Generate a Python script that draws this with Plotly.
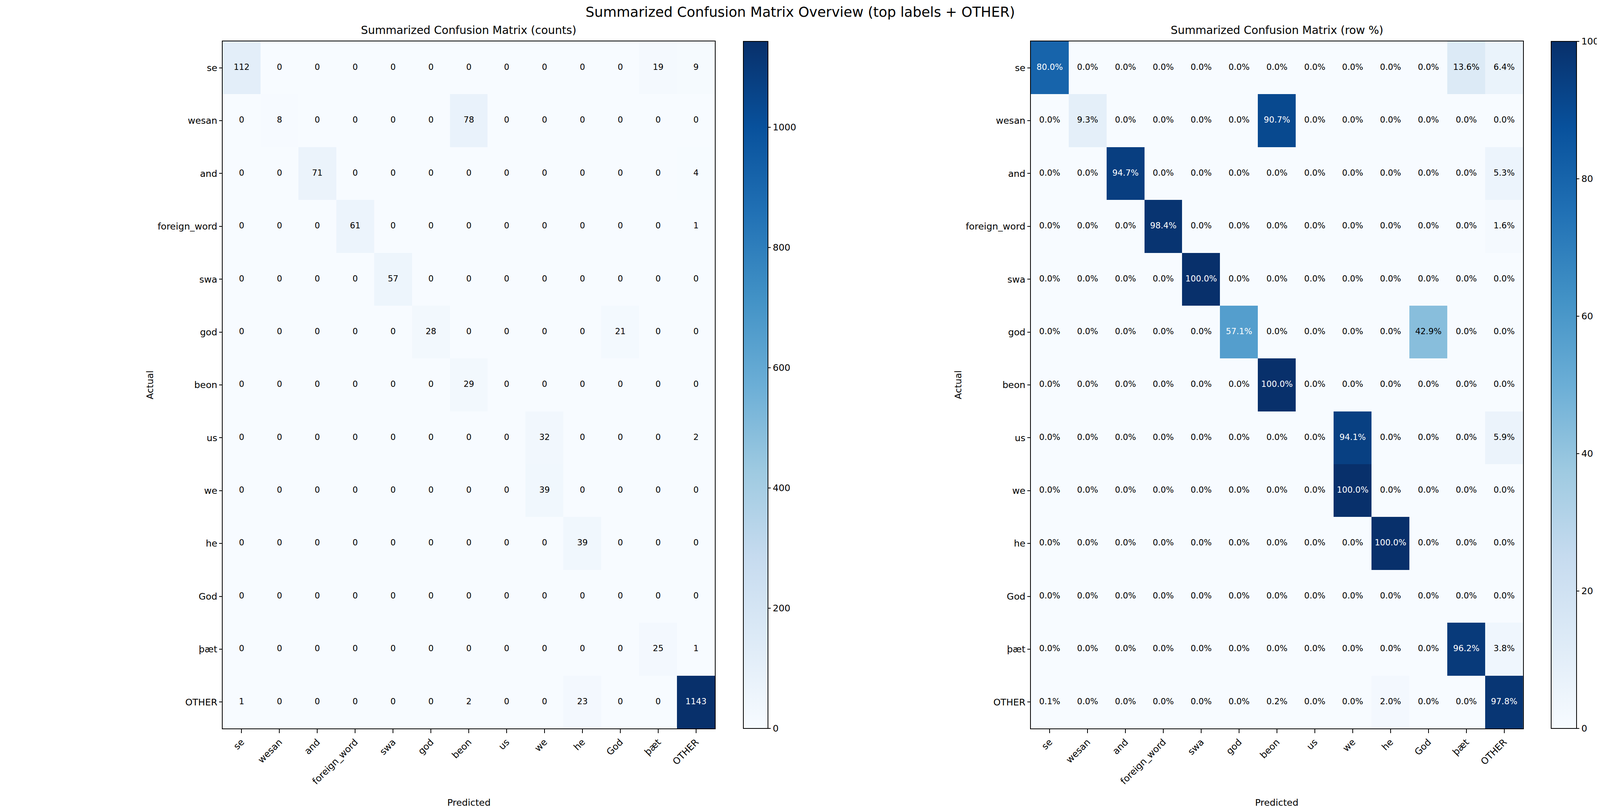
import plotly.graph_objects as go

# ==========================================
# DATA
# ==========================================
labels = ["se", "wesan", "and", "foreign_word", "swa", "god", "beon",
          "us", "we", "he", "God", "þæt", "OTHER"]

counts = [
    [112, 0, 0, 0, 0, 0, 0, 0, 0, 0, 0, 19, 9],
    [0, 8, 0, 0, 0, 0, 78, 0, 0, 0, 0, 0, 0],
    [0, 0, 71, 0, 0, 0, 0, 0, 0, 0, 0, 0, 4],
    [0, 0, 0, 61, 0, 0, 0, 0, 0, 0, 0, 0, 1],
    [0, 0, 0, 0, 57, 0, 0, 0, 0, 0, 0, 0, 0],
    [0, 0, 0, 0, 0, 28, 0, 0, 0, 0, 21, 0, 0],
    [0, 0, 0, 0, 0, 0, 29, 0, 0, 0, 0, 0, 0],
    [0, 0, 0, 0, 0, 0, 0, 0, 32, 0, 0, 0, 2],
    [0, 0, 0, 0, 0, 0, 0, 0, 39, 0, 0, 0, 0],
    [0, 0, 0, 0, 0, 0, 0, 0, 0, 39, 0, 0, 0],
    [0, 0, 0, 0, 0, 0, 0, 0, 0, 0, 0, 0, 0],
    [0, 0, 0, 0, 0, 0, 0, 0, 0, 0, 0, 25, 1],
    [1, 0, 0, 0, 0, 0, 2, 0, 0, 23, 0, 0, 1143],
]

row_pct = [
    [80.0, 0, 0, 0, 0, 0, 0, 0, 0, 0, 0, 13.6, 6.4],
    [0, 9.3, 0, 0, 0, 0, 90.7, 0, 0, 0, 0, 0, 0],
    [0, 0, 94.7, 0, 0, 0, 0, 0, 0, 0, 0, 0, 5.3],
    [0, 0, 0, 98.4, 0, 0, 0, 0, 0, 0, 0, 0, 1.6],
    [0, 0, 0, 0, 100.0, 0, 0, 0, 0, 0, 0, 0, 0],
    [0, 0, 0, 0, 0, 57.1, 0, 0, 0, 0, 42.9, 0, 0],
    [0, 0, 0, 0, 0, 0, 100.0, 0, 0, 0, 0, 0, 0],
    [0, 0, 0, 0, 0, 0, 0, 0, 94.1, 0, 0, 0, 5.9],
    [0, 0, 0, 0, 0, 0, 0, 0, 100.0, 0, 0, 0, 0],
    [0, 0, 0, 0, 0, 0, 0, 0, 0, 100.0, 0, 0, 0],
    [0, 0, 0, 0, 0, 0, 0, 0, 0, 0, 0, 0, 0],
    [0, 0, 0, 0, 0, 0, 0, 0, 0, 0, 0, 96.2, 3.8],
    [0.1, 0, 0, 0, 0, 0, 0.2, 0, 0, 2.0, 0, 0, 97.8],
]

count_ticks = [0, 200, 400, 600, 800, 1000]
pct_ticks = [0, 20, 40, 60, 80, 100]

# matplotlib "Blues"
BLUES = ['rgb(247,251,255)', 'rgb(222,235,247)', 'rgb(198,219,239)', 'rgb(158,202,225)',
         'rgb(107,174,214)', 'rgb(66,146,198)', 'rgb(33,113,181)', 'rgb(8,81,156)', 'rgb(8,48,107)']

FONT = "DejaVu Sans"

# The browser viewport ends up 4096x2080 css px (body keeps its 8px margin),
# so the 5720x2080 reference layout is squeezed horizontally to fit it.
VIEW_W, VIEW_H = 4096, 2080
BODY = 8
SX = VIEW_W / 5720
W = VIEW_W - BODY        # right body margin may be overrun, no scrollbar
H = VIEW_H - 2 * BODY    # bottom margin counts, keep it
FS = 0.85   # font shrink so text survives the horizontal squeeze


def px_x(v):
    return (v * SX - BODY) / W


def px_y(v):
    return 1 - (v - BODY) / H


# geometry in reference pixels
TOP, BOTTOM = 106, 1866
PANELS = [
    dict(left=796, right=2556, cb=2658, cb_r=2746),
    dict(left=3685, right=5445, cb=5545, cb_r=5636),
]

TICK_FONT = 27.8 * FS
CELL_FONT = 25 * FS
LINE_W = 2.0
TICK_LEN_V = 9.7        # vertical ticks (x axis)
TICK_LEN_H = 9.7 * SX   # horizontal ticks (y axis, colorbar)


def text_trace(matrix, fmt, xa, ya):
    vmax = max(max(r) for r in matrix)
    xs, ys, txt, cols = [], [], [], []
    for i, row in enumerate(matrix):
        for j, v in enumerate(row):
            xs.append(labels[j])
            ys.append(labels[i])
            txt.append(fmt(v))
            cols.append("white" if v > vmax / 2 else "black")
    return go.Scatter(x=xs, y=ys, mode="text", text=txt, xaxis=xa, yaxis=ya,
                      textfont=dict(family=FONT, size=CELL_FONT, color=cols),
                      hoverinfo="skip", showlegend=False)


fig = go.Figure()

mats = [
    (counts, lambda v: f"{v:d}", count_ticks, "Summarized Confusion Matrix (counts)"),
    (row_pct, lambda v: f"{v:.1f}%", pct_ticks, "Summarized Confusion Matrix (row %)"),
]

annotations = []
for k, ((mat, fmt, ticks, title), p) in enumerate(zip(mats, PANELS)):
    xa = "x" if k == 0 else "x2"
    ya = "y" if k == 0 else "y2"
    zmax = max(max(r) for r in mat)
    fig.add_trace(go.Heatmap(
        z=mat, x=labels, y=labels, xaxis=xa, yaxis=ya,
        colorscale=[[i / 8, c] for i, c in enumerate(BLUES)],
        zmin=0, zmax=zmax, hoverinfo="skip",
        colorbar=dict(
            x=px_x(p["cb"]), xanchor="left", xpad=0, ypad=0,
            y=px_y(BOTTOM), yanchor="bottom", len=px_y(TOP) - px_y(BOTTOM), lenmode="fraction",
            thickness=(p["cb_r"] - p["cb"]) * SX, thicknessmode="pixels",
            outlinewidth=LINE_W, outlinecolor="black",
            tickvals=ticks, ticks="outside", ticklen=TICK_LEN_H, tickwidth=LINE_W, tickcolor="black",
            tickfont=dict(family=FONT, size=TICK_FONT, color="black"),
        ),
    ))
    fig.add_trace(text_trace(mat, fmt, xa, ya))

    axis_common = dict(
        type="category", categoryorder="array", categoryarray=labels,
        showgrid=False, zeroline=False, showline=True, mirror=True,
        linecolor="black", linewidth=LINE_W, ticks="outside", tickwidth=LINE_W,
        tickcolor="black", tickfont=dict(family=FONT, size=TICK_FONT, color="black"),
    )
    fig.update_layout(**{
        ("xaxis" if k == 0 else "xaxis2"): dict(
            axis_common, domain=[px_x(p["left"]), px_x(p["right"])],
            range=[-0.5, 12.5], tickangle=-45, ticklen=TICK_LEN_V, anchor=ya),
        ("yaxis" if k == 0 else "yaxis2"): dict(
            axis_common, domain=[px_y(BOTTOM), px_y(TOP)],
            range=[12.5, -0.5], ticklen=TICK_LEN_H, anchor=xa),
    })

    cx = px_x((p["left"] + p["right"]) / 2)
    annotations += [
        dict(text=title, x=cx, y=px_y(78), xref="paper", yref="paper",
             xanchor="center", yanchor="middle", showarrow=False,
             font=dict(family=FONT, size=33.3 * FS, color="black")),
        dict(text="Predicted", x=cx, y=px_y(2056), xref="paper", yref="paper",
             xanchor="center", yanchor="middle", showarrow=False,
             font=dict(family=FONT, size=TICK_FONT, color="black")),
        # keep clear of the widest tick label ("foreign_word")
        dict(text="Actual", x=(p["left"] * SX - BODY - 186) / W, y=px_y((TOP + BOTTOM) / 2),
             xref="paper", yref="paper", textangle=-90,
             xanchor="center", yanchor="middle", showarrow=False,
             font=dict(family=FONT, size=TICK_FONT, color="black")),
    ]

annotations.append(dict(
    text="Summarized Confusion Matrix Overview (top labels + OTHER)",
    x=px_x(2860), y=1, xref="paper", yref="paper", xanchor="center", yanchor="top",
    showarrow=False, font=dict(family=FONT, size=41.7 * FS, color="black")))

fig.update_layout(
    width=W, height=H, margin=dict(l=0, r=0, t=0, b=0, autoexpand=False),
    paper_bgcolor="white", plot_bgcolor="white",
    font=dict(family=FONT, color="black"),
    annotations=annotations, showlegend=False,
)

fig.write_html("out.html")
